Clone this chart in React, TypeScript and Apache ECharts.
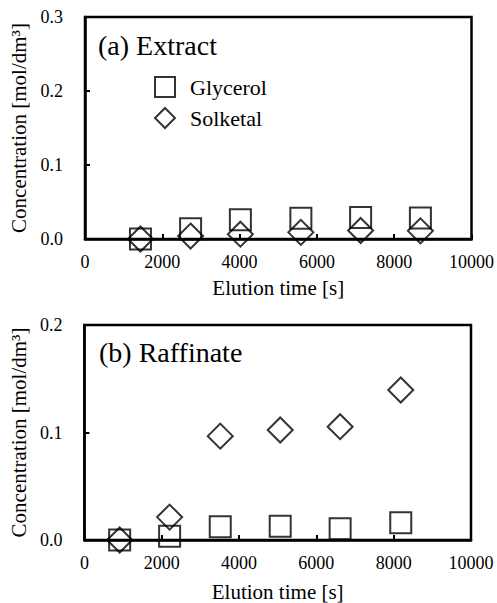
import React, { useEffect, useRef } from "react";
import * as echarts from "echarts";

const FONT = "Liberation Serif";

// (a) Extract
const extractTime = [1435, 2732, 4020, 5585, 7131, 8678];
const extractGlycerol = [0.0, 0.014, 0.026, 0.028, 0.029, 0.0285];
const extractSolketal = [0.0, 0.004, 0.0065, 0.009, 0.0115, 0.011];

// (b) Raffinate
const raffinateTime = [912, 2204, 3514, 5065, 6615, 8183];
const raffinateGlycerol = [0.0, 0.0035, 0.0123, 0.0128, 0.0105, 0.016];
const raffinateSolketal = [0.0, 0.0213, 0.0966, 0.1023, 0.1054, 0.1395];

const panelTitles = ["(a) Extract", "(b) Raffinate"];
const seriesNames = ["Glycerol", "Solketal"];
const xAxisTitle = "Elution time [s]";
const yAxisTitle = "Concentration [mol/dm³]";

const pairs = (xs: number[], ys: number[]) => xs.map((x, i) => [x, ys[i]]);

export default function App() {
  const ref = useRef<HTMLDivElement>(null);
  useEffect(() => {
    if (!ref.current) return;
    const chart = echarts.init(ref.current, null, { renderer: "svg" });
    const hollow = { color: "rgba(0,0,0,0)", borderColor: "#000", borderWidth: 2 };
    const xAxisBase = (gridIndex: number, nameGap: number) => ({
      type: "value",
      gridIndex,
      min: 0,
      max: 10000,
      interval: 2000,
      name: xAxisTitle,
      nameLocation: "middle",
      nameGap,
      nameTextStyle: { fontFamily: FONT, fontSize: 21, color: "#000" },
      axisLine: { show: true, onZero: false, lineStyle: { color: "#000", width: 2.5 } },
      axisTick: { show: true, inside: true, length: 5, lineStyle: { color: "#000", width: 2 } },
      axisLabel: {
        fontFamily: FONT,
        fontSize: 18,
        color: "#000",
        margin: 14,
        formatter: (v: number) => String(v),
      },
      splitLine: { show: false },
    });
    const yAxisBase = (gridIndex: number, max: number) => ({
      type: "value",
      gridIndex,
      min: 0,
      max,
      interval: 0.1,
      name: yAxisTitle,
      nameLocation: "middle",
      nameGap: 52,
      nameTextStyle: { fontFamily: FONT, fontSize: 21, color: "#000" },
      axisLine: { show: true, lineStyle: { color: "#000", width: 2.5 } },
      axisTick: { show: true, inside: true, length: 5, lineStyle: { color: "#000", width: 2 } },
      axisLabel: {
        fontFamily: FONT,
        fontSize: 18,
        color: "#000",
        margin: 22,
        formatter: (v: number) => v.toFixed(1),
      },
      splitLine: { show: false },
    });
    const scatter = (name: string, symbol: string, size: number, idx: number, data: number[][]) => ({
      type: "scatter",
      name,
      xAxisIndex: idx,
      yAxisIndex: idx,
      symbol,
      symbolSize: size,
      clip: false,
      itemStyle: hollow,
      emphasis: { disabled: true },
      data,
    });
    chart.setOption({
      animation: false,
      backgroundColor: "#fff",
      textStyle: { fontFamily: FONT, color: "#000" },
      title: [
        {
          text: panelTitles[0],
          left: 98,
          top: 31,
          padding: 0,
          textStyle: { fontFamily: FONT, fontSize: 28, fontWeight: "normal", color: "#000" },
        },
        {
          text: panelTitles[1],
          left: 99,
          top: 338,
          padding: 0,
          textStyle: { fontFamily: FONT, fontSize: 28, fontWeight: "normal", color: "#000" },
        },
      ],
      legend: {
        orient: "vertical",
        left: 154,
        top: 76,
        padding: 0,
        itemGap: 9,
        itemWidth: 20,
        itemHeight: 20,
        selectedMode: false,
        textStyle: { fontFamily: FONT, fontSize: 22, color: "#000", padding: [0, 0, 0, 10] },
        data: [
          { name: seriesNames[0], icon: "rect", itemStyle: hollow },
          { name: seriesNames[1], icon: "diamond", itemStyle: hollow },
        ],
      },
      grid: [
        { left: 85, right: 24, top: 17, height: 222, show: true, borderColor: "#000", borderWidth: 2.5, backgroundColor: "transparent" },
        { left: 84, right: 26, top: 325, height: 215, show: true, borderColor: "#000", borderWidth: 2.5, backgroundColor: "transparent" },
      ],
      xAxis: [xAxisBase(0, 38), xAxisBase(1, 41)],
      yAxis: [yAxisBase(0, 0.3), yAxisBase(1, 0.2)],
      series: [
        scatter(seriesNames[0], "rect", 21, 0, pairs(extractTime, extractGlycerol)),
        scatter(seriesNames[1], "diamond", 25, 0, pairs(extractTime, extractSolketal)),
        scatter(seriesNames[0], "rect", 21, 1, pairs(raffinateTime, raffinateGlycerol)),
        scatter(seriesNames[1], "diamond", 25, 1, pairs(raffinateTime, raffinateSolketal)),
      ],
    });
    return () => chart.dispose();
  }, []);
  return (
    <div
      ref={ref}
      style={{ position: "fixed", left: 0, top: 0, width: 497, height: 603, background: "#fff" }}
    />
  );
}
